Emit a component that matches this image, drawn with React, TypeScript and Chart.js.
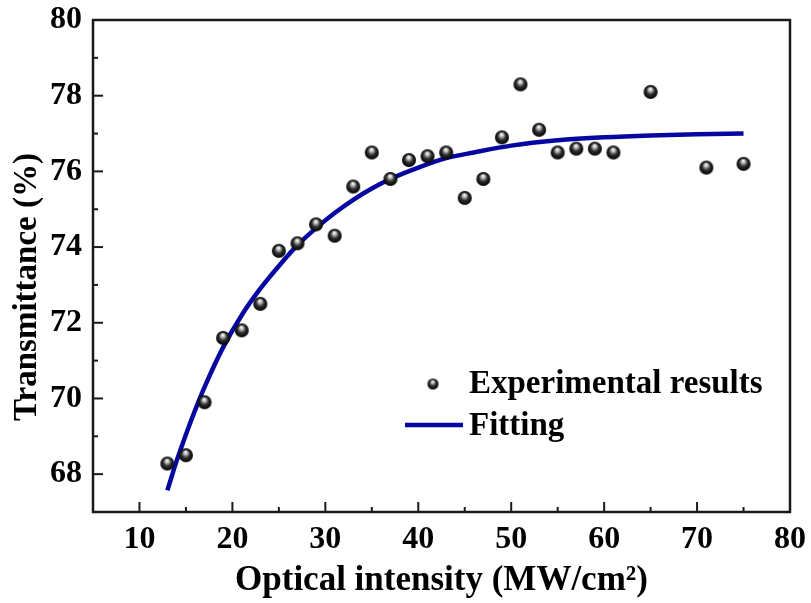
import React, { useEffect, useRef } from 'react';
import { Chart, registerables } from 'chart.js';

Chart.register(...registerables);

// ---- data ----
const expX = [13, 15, 17, 19, 21, 23, 25, 27, 29, 31, 33, 35, 37, 39, 41, 43, 45, 47, 49, 51, 53, 55, 57, 59, 61, 65, 71, 75];
const expY = [68.28, 68.5, 69.9, 71.6, 71.8, 72.5, 73.9, 74.1, 74.6, 74.3, 75.6, 76.5, 75.8, 76.3, 76.4, 76.5, 75.3, 75.8, 76.9, 78.3, 77.1, 76.5, 76.6, 76.6, 76.5, 78.1, 76.1, 76.2];
const fitX = [13, 14, 15, 16, 17, 19, 21, 23, 25, 27, 29, 31, 33, 35, 37, 40, 43, 46, 50, 55, 60, 65, 70, 75];
const fitY = [67.57, 68.35, 69.05, 69.7, 70.3, 71.35, 72.2, 72.9, 73.5, 74.05, 74.5, 74.9, 75.25, 75.55, 75.8, 76.1, 76.35, 76.5, 76.68, 76.82, 76.9, 76.95, 76.98, 77.0];
const xTickValues = [10, 20, 30, 40, 50, 60, 70, 80];
const xMinorValues = [15, 25, 35, 45, 55, 65, 75];
const yTickValues = [68, 70, 72, 74, 76, 78, 80];
const yMinorValues = [69, 71, 73, 75, 77, 79];
const xTitle = 'Optical intensity (MW/cm²)';
const yTitle = 'Transmittance (%)';
const seriesLabels = ['Experimental results', 'Fitting'];

const FONT = '"Liberation Serif", "Times New Roman", serif';
const LINE_COLOR = '#0606a0';
const AXIS_COLOR = '#1a1a1a';
const TARGET = { left: 93, right: 790, top: 20, bottom: 512 };

function makeSphere(r: number): HTMLCanvasElement {
  const size = Math.ceil(r * 2 + 2);
  const c = document.createElement('canvas');
  c.width = size;
  c.height = size;
  const ctx = c.getContext('2d')!;
  const cx = size / 2;
  const cy = size / 2;
  const g = ctx.createRadialGradient(cx - 0.3, cy - r * 0.45, r * 0.05, cx, cy, r);
  g.addColorStop(0, '#ffffff');
  g.addColorStop(0.25, '#b0b0b0');
  g.addColorStop(0.55, '#303030');
  g.addColorStop(1, '#000000');
  ctx.fillStyle = g;
  ctx.beginPath();
  ctx.arc(cx, cy, r, 0, Math.PI * 2);
  ctx.fill();
  return c;
}

const frameTicksPlugin = {
  id: 'frameTicks',
  beforeDatasetsDraw(chart: any) {
    const { ctx, chartArea } = chart;
    const xs = chart.scales.x;
    const ys = chart.scales.y;
    ctx.save();
    ctx.strokeStyle = AXIS_COLOR;
    ctx.lineWidth = 2.5;
    ctx.strokeRect(chartArea.left, chartArea.top, chartArea.right - chartArea.left, chartArea.bottom - chartArea.top);
    ctx.lineWidth = 2;
    const drawX = (vals: number[], len: number) => {
      vals.forEach((v) => {
        const px = xs.getPixelForValue(v);
        ctx.beginPath();
        ctx.moveTo(px, chartArea.bottom);
        ctx.lineTo(px, chartArea.bottom - len);
        ctx.stroke();
      });
    };
    const drawY = (vals: number[], len: number) => {
      vals.forEach((v) => {
        const py = ys.getPixelForValue(v);
        ctx.beginPath();
        ctx.moveTo(chartArea.left, py);
        ctx.lineTo(chartArea.left + len, py);
        ctx.stroke();
      });
    };
    drawX(xTickValues, 10);
    drawX(xMinorValues, 5);
    drawY(yTickValues, 10);
    drawY(yMinorValues, 5);

    // y-axis title (placed a little below the axis centre, as in the reference)
    ctx.translate(27, 287);
    ctx.rotate(-Math.PI / 2);
    ctx.fillStyle = '#000';
    ctx.font = `bold 33px ${FONT}`;
    ctx.textAlign = 'center';
    ctx.textBaseline = 'middle';
    ctx.fillText(yTitle, 0, 0);
    ctx.restore();
  },
};

const legendPlugin = {
  id: 'customLegend',
  afterDraw(chart: any) {
    const { ctx } = chart;
    const sphere = makeSphere(5.5);
    ctx.save();
    ctx.drawImage(sphere, 433 - sphere.width / 2, 384 - sphere.height / 2);
    ctx.strokeStyle = LINE_COLOR;
    ctx.lineWidth = 4.5;
    ctx.beginPath();
    ctx.moveTo(405, 425);
    ctx.lineTo(463, 425);
    ctx.stroke();
    ctx.fillStyle = '#000';
    ctx.font = `bold 33px ${FONT}`;
    ctx.textBaseline = 'alphabetic';
    ctx.textAlign = 'left';
    ctx.fillText(chart.data.datasets[0].label, 469, 393);
    ctx.fillText(chart.data.datasets[1].label, 469, 435);
    ctx.restore();
  },
};

export default function App() {
  const ref = useRef<HTMLCanvasElement | null>(null);

  useEffect(() => {
    if (!ref.current) return;
    const sphere = makeSphere(7);
    const padding = { top: 20, right: 21, left: 0, bottom: 0 };
    const chart = new Chart(ref.current, {
      type: 'scatter',
      data: {
        datasets: [
          {
            label: seriesLabels[0],
            data: expX.map((x, i) => ({ x, y: expY[i] })),
            pointStyle: sphere as any,
            pointRadius: 7,
            showLine: false,
          },
          {
            label: seriesLabels[1],
            data: fitX.map((x, i) => ({ x, y: fitY[i] })),
            showLine: true,
            borderColor: LINE_COLOR,
            borderWidth: 4.5,
            pointRadius: 0,
            cubicInterpolationMode: 'monotone',
            fill: false,
          } as any,
        ],
      },
      options: {
        responsive: false,
        animation: false,
        layout: { padding },
        plugins: {
          legend: { display: false },
          tooltip: { enabled: false },
        },
        scales: {
          x: {
            type: 'linear',
            min: 5,
            max: 80,
            afterBuildTicks: (scale: any) => {
              scale.ticks = xTickValues.map((v) => ({ value: v }));
            },
            afterFit: (scale: any) => {
              scale.height = 91;
              scale.paddingLeft = 0;
              scale.paddingRight = 0;
            },
            grid: { display: false, drawTicks: false },
            border: { display: false },
            ticks: {
              color: '#000',
              padding: 9,
              maxRotation: 0,
              font: { family: FONT, size: 32, weight: 'bold' },
            },
            title: {
              display: true,
              text: xTitle,
              color: '#000',
              padding: { top: 0, bottom: 1 },
              font: { family: FONT, size: 35, weight: 'bold' },
            },
          },
          y: {
            type: 'linear',
            min: 67,
            max: 80,
            afterBuildTicks: (scale: any) => {
              scale.ticks = yTickValues.map((v) => ({ value: v }));
            },
            afterFit: (scale: any) => {
              scale.width = 93;
              scale.paddingTop = 0;
              scale.paddingBottom = 0;
            },
            grid: { display: false, drawTicks: false },
            border: { display: false },
            ticks: {
              color: '#000',
              padding: 11,
              font: { family: FONT, size: 32, weight: 'bold' },
            },
            title: { display: false, text: yTitle },
          },
        },
      },
      plugins: [frameTicksPlugin, legendPlugin],
    });

    // Nudge the layout padding so the plot area lands where the reference has it.
    for (let i = 0; i < 3; i++) {
      const a = chart.chartArea;
      padding.top = Math.max(0, padding.top + (TARGET.top - a.top));
      padding.left = Math.max(0, padding.left + (TARGET.left - a.left));
      padding.right = Math.max(0, padding.right + (a.right - TARGET.right));
      padding.bottom = Math.max(0, padding.bottom + (a.bottom - TARGET.bottom));
      (chart.options as any).layout.padding = { ...padding };
      chart.update();
    }

    return () => chart.destroy();
  }, []);

  return (
    <div style={{ position: 'fixed', left: 0, top: 0, width: 811, height: 603, background: '#fff' }}>
      <canvas ref={ref} width={811} height={603} style={{ width: 811, height: 603 }} />
    </div>
  );
}
